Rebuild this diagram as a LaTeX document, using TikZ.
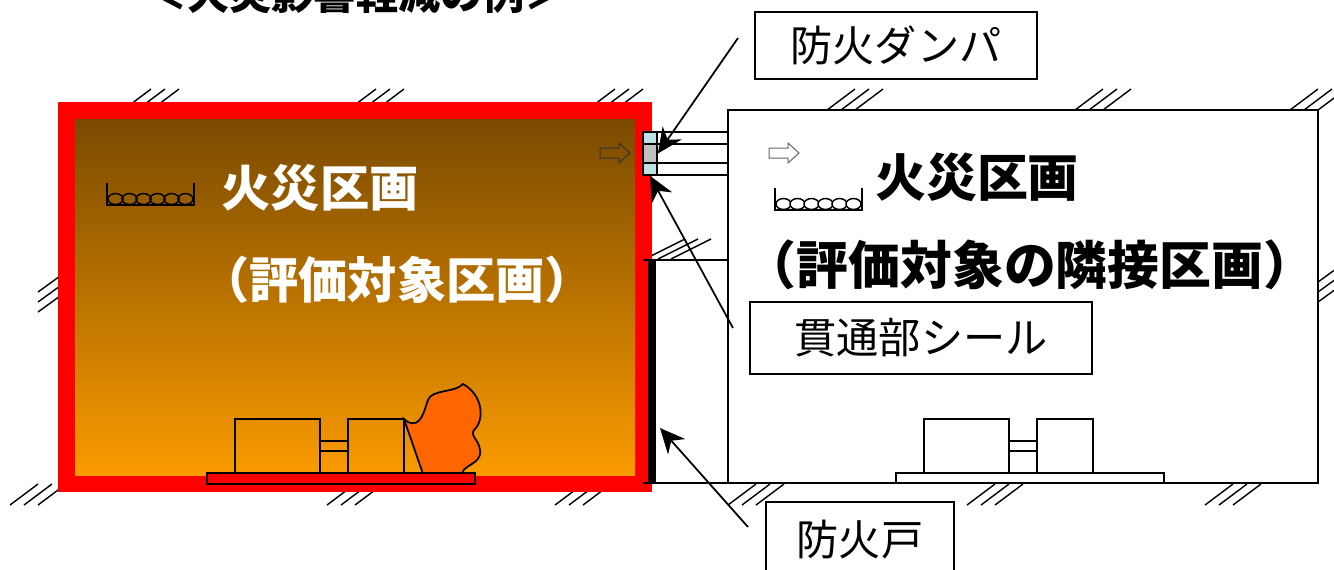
\documentclass[tikz,border=0pt]{standalone}
\usepackage{fontspec}
\newfontfamily\jp{Noto Sans CJK JP}
\usetikzlibrary{arrows.meta,positioning}

\definecolor{smoketop}{RGB}{122,74,0}
\definecolor{heatbot}{RGB}{250,155,0}
\definecolor{flame}{RGB}{255,102,0}
\definecolor{sealblue}{RGB}{190,225,230}
\definecolor{dampergray}{RGB}{192,192,192}

\tikzset{
  openarrow/.pic={\draw[line width=0.2mm,pic actions]
    (0,-5) -- (19,-5) -- (19,-10) -- (30,0) -- (19,10) -- (19,5) -- (0,5) -- cycle;},
  tray/.pic={
    \foreach \i in {0,...,5}
      \draw[line width=0.3mm,pic actions] (8.5+14*\i,16) ellipse [x radius=7.5, y radius=5.5];
    \draw[line width=0.45mm] (0,0) -- (0,22) -- (87,22) -- (87,0);}
}

\begin{document}
\begin{tikzpicture}[x=0.2mm,y=-0.2mm,
  hatch/.style={line width=0.28mm},
  wall/.style={line width=0.4mm},
  leader/.style={line width=0.35mm,-{Stealth[length=5mm,width=4.6mm,inset=1.6mm]}},
  lbl/.style={draw,line width=0.4mm,font=\jp\fontsize{24}{24}\selectfont,inner sep=0pt},
  roomname/.style={font=\jp\bfseries\fontsize{28}{28}\selectfont,inner sep=0pt},
  machine/.style={line width=0.35mm}]
\useasboundingbox (0,0) rectangle (1334,569);
\clip (0,0) rectangle (1334,569);
\fill[white] (0,0) rectangle (1334,569);

% title (runs off the top)
\node[font=\jp\bfseries\fontsize{24}{24}\selectfont,inner sep=0pt] (ttl) at (356,-6) {＜火災影響軽減の例＞};

% wall hatching
\foreach \x in {123,348,587,827,1075,1290}
  \foreach \k in {0,1,2}
    \draw[hatch] (\x+14*\k,110) -- ++(28,-21);
\foreach \x in {10,327,555,728,967,1205}
  \foreach \k in {0,1,2}
    \draw[hatch] (\x+14*\k,505) -- ++(28,-21);
\foreach \k in {0,1,2} {
  \draw[hatch] (38,292+10*\k) -- ++(29,-21);
  \draw[hatch] (1318,282+10*\k) -- ++(29,-21);
  \draw[hatch] (645+13*\k,259) -- ++(40,-20);
}

% fire compartment
\fill[red] (58,102) rectangle (652,492);
\shade[top color=smoketop,bottom color=heatbot] (75,119) rectangle (635,475);

% neighbouring compartment
\draw[wall,fill=white] (728,110) rectangle (1318,483);
\draw[line width=0.3mm] (643,260) -- (728,260);
\draw[line width=0.5mm] (643,483) -- (1318,483);
\node[fill=black,inner sep=0pt,minimum width=1.7mm,minimum height=44.6mm] (door) at (652,371.5) {};

% duct through the wall, damper and seals
\foreach \y in {132,144,163,175}
  \draw[wall] (657,\y) -- (728,\y);
\node[draw,line width=0.35mm,fill=sealblue,inner sep=0pt,minimum width=2.8mm,minimum height=2.4mm] (sealtop) at (650,138) {};
\node[draw,line width=0.35mm,fill=dampergray,inner sep=0pt,minimum width=2.8mm,minimum height=3.8mm] (dmpr) at (650,153.5) {};
\node[draw,line width=0.35mm,fill=sealblue,inner sep=0pt,minimum width=2.8mm,minimum height=2.4mm] (sealbot) at (650,169) {};

% small arrows and cable trays
\pic[draw=black!80] at (600,153) {openarrow};
\pic[draw=black!60,fill=white] at (769,153) {openarrow};
\pic at (107,183) {tray};
\pic[fill=white] at (775,188) {tray};

% pump set on fire
\filldraw[machine,fill=flame] (404,419) -- (423,474) -- (463,474)
  .. controls (460,466) and (483,464) .. (480,450)
  .. controls (479,440) and (470,436) .. (474,430)
  .. controls (485,420) and (483,395) .. (463,384)
  .. controls (455,393) and (432,389) .. (428,400)
  .. controls (424,411) and (421,428) .. (408,422) -- cycle;
\draw[machine] (235,419) rectangle (320,473);
\draw[machine] (320,441) rectangle (348,451);
\draw[machine] (348,419) rectangle (404,473);
\draw[machine,fill=red] (207,473) rectangle (475,484);

% pump set next door
\draw[machine] (924,419) rectangle (1009,473);
\draw[machine] (1009,441) rectangle (1037,451);
\draw[machine] (1037,419) rectangle (1093,473);
\draw[machine,fill=white] (896,473) rectangle (1164,483);

% compartment names
\node[roomname,text=white] (fire1) at (320,188) {火災区画};
\node[roomname,text=white] (fire2) at (397,280) {（評価対象区画）};
\node[roomname,font=\jp\bfseries\fontsize{29}{29}\selectfont] (next1) at (977,177) {火災区画};
\node[roomname,font=\jp\bfseries\fontsize{29.5}{29.5}\selectfont] (next2) at (1030,265) {（評価対象の隣接区画）};

% call-outs
\node[lbl,minimum width=56.4mm,minimum height=13.4mm] (dmp) at (896,45) {防火ダンパ};
\node[lbl,minimum width=68.4mm,minimum height=14.4mm] (seal) at (921,338) {貫通部シール};
\node[lbl,minimum width=37.6mm,minimum height=15.2mm] (fd) at (860,540) {防火戸};
\coordinate (dmptail) at (738,38);
\coordinate (sealtail) at (733,328);
\coordinate (fdtail) at (748,527);
\coordinate (fdtip) at (660,428);
\draw[leader] (dmptail) -- (dmpr.east);
\draw[leader] (sealtail) -- (sealbot.south);
\draw[leader] (fdtail) -- (fdtip);
\end{tikzpicture}
\end{document}
